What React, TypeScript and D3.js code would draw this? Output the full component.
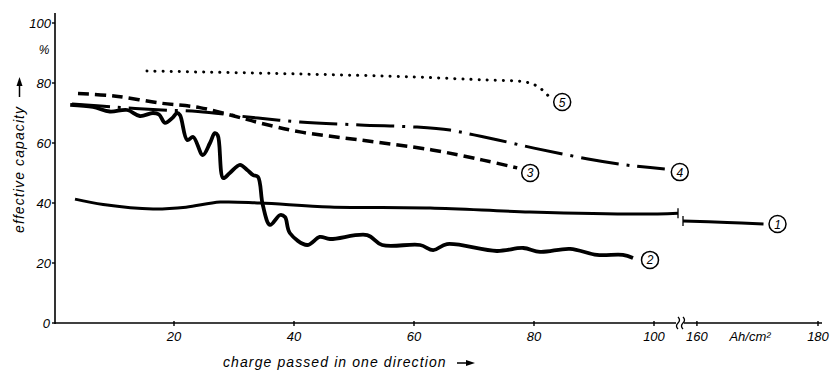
import React from 'react';
import * as d3 from 'd3';

// curve data: [charge Ah/cm², effective capacity %]
const curve1a = [[3.5, 41.3], [8.2, 39.5], [16.5, 38], [22, 38.6], [27.7, 40.3], [34.3, 40], [46, 38.7], [62.7, 38.3], [79.3, 37], [97.7, 36.3], [104, 36.6]];
const curve1b = [[157.7, 34], [165, 33.5], [171, 33]];
const curve2 = [
	[2.7, 72.7], [6.5, 72], [9.3, 70.5], [12.2, 71], [14.3, 69], [16.5, 70], [17.5, 69.5], [18.5, 66.7], [19.7, 68.3],
	[20.5, 70], [21, 69.3], [22.2, 61], [23.2, 62], [24.8, 56], [26, 60], [26.8, 63.3], [27.3, 62.5], [28.2, 48.3],
	[29.3, 50], [31, 52.7], [32.2, 51], [33.2, 49.3], [34, 48.7], [34.8, 39.3], [36, 32.7], [37.7, 36], [38.5, 35.3],
	[39.3, 30], [42.2, 26], [44.3, 28.7], [46, 28], [52.2, 29.3], [54.7, 26], [61, 26], [63.2, 24.3], [65.5, 26.3],
	[73.8, 24], [78.2, 25], [81, 23.7], [86, 24.7], [90.5, 22.7], [94.8, 22.7], [96.5, 21.7],
];
const curve3 = [[4, 76.5], [10, 75.7], [17.7, 73.3], [24.3, 71.8], [30, 69], [34.3, 66.7], [41, 63.7], [51, 61], [63, 57.7], [71.5, 54.3], [77.2, 51.7]];
const curve4 = [[3, 73], [10, 72], [18, 71], [24, 70.5], [34, 68.3], [41, 67], [51, 66], [60.5, 65.3], [66, 64.3], [70, 62.7], [74, 61], [80, 58.3], [89, 54.7], [96, 52.5], [101.8, 51.3]];
const curve5 = [[15.5, 84], [41, 83], [60, 82], [72, 81], [78, 80.5], [80, 79.5], [81.5, 77.5], [82.7, 75]];

const xTicks = [20, 40, 60, 80, 100, 160, 180];
const yTicks = [0, 20, 40, 60, 80, 100];
const curveLabels = ['1', '2', '3', '4', '5'];

const font = '"Liberation Sans", Arial, sans-serif';

export default function App() {
	const W = 831;
	const H = 370;
	// broken axis: 0..104 then 157.7..180
	const x = d3.scaleLinear().domain([0, 104, 157.7, 180]).range([54, 678, 683, 818]);
	const y = d3.scaleLinear().domain([0, 100]).range([323, 23]);
	const x0 = 55;
	const y0 = 323;

	const line = d3
		.line<number[]>()
		.x(d => x(d[0]))
		.y(d => y(d[1]))
		.curve(d3.curveCatmullRom.alpha(0.5));

	const series = [
		{ id: '1', data: curve1a, width: 3, dash: null, end: curve1b[curve1b.length - 1], off: [14, 0] },
		{ id: '2', data: curve2, width: 3.8, dash: null, end: curve2[curve2.length - 1], off: [17, 2] },
		{ id: '3', data: curve3, width: 3.5, dash: '11 6', end: curve3[curve3.length - 1], off: [13, 5] },
		{ id: '4', data: curve4, width: 3, dash: '38 8 3 8', end: curve4[curve4.length - 1], off: [15, 3] },
		{ id: '5', data: curve5, width: 3, dash: '0.1 8', end: curve5[curve5.length - 1], off: [12, 4] },
	];

	const bx = x(104) + 2; // where the axis break sits

	return (
		<svg width={W} height={H} style={{ position: 'absolute', left: 0, top: 0, background: '#fff' }} fontFamily={font}>
			{/* axes */}
			<line x1={x0} y1={13} x2={x0} y2={y0 + 1} stroke="#000" strokeWidth={1.6} />
			<line x1={x0} y1={y0} x2={822} y2={y0} stroke="#000" strokeWidth={1.6} />
			{yTicks.map(t => (
				<g key={'y' + t}>
					<line x1={x0 - 3} x2={x0} y1={y(t)} y2={y(t)} stroke="#000" strokeWidth={1.4} />
					<text x={t === 0 ? 50 : 51} y={y(t) + 5} textAnchor="end" fontSize={13} fontStyle="italic">{t}</text>
				</g>
			))}
			<text x={44} y={54} textAnchor="middle" fontSize={12} fontStyle="italic">%</text>
			{xTicks.map(t => (
				<g key={'x' + t}>
					<line x1={x(t)} x2={x(t)} y1={y0 - 2} y2={y0 + 3} stroke="#000" strokeWidth={1.4} />
					<text x={x(t)} y={341} textAnchor="middle" fontSize={13} fontStyle="italic">{t}</text>
				</g>
			))}
			<text x={750} y={341} textAnchor="middle" fontSize={13} fontStyle="italic">Ah/cm²</text>
			{/* axis break */}
			<rect x={bx - 4} y={y0 - 2} width={8} height={4} fill="#fff" />
			<path d={`M${bx - 2},${y0 - 6} q3,3 0,6 q-3,3 0,6 M${bx + 3},${y0 - 6} q3,3 0,6 q-3,3 0,6`} fill="none" stroke="#000" strokeWidth={1.3} />

			{/* axis titles */}
			<text transform="translate(24,233) rotate(-90)" textAnchor="start" fontSize={14} letterSpacing={1.1} fontStyle="italic">
				effective capacity
			</text>
			<path d="M19.5,97 V84" stroke="#000" strokeWidth={1.5} />
			<path d="M19.5,77 l-3,9 h6 z" fill="#000" />
			<text x={223} y={367} fontSize={14} letterSpacing={1.1} fontStyle="italic">charge passed in one direction</text>
			<path d="M457,363 H468" stroke="#000" strokeWidth={1.5} />
			<path d="M475,363 l-9,-3 v6 z" fill="#000" />

			{/* curves */}
			{series.map(s => (
				<path key={s.id} d={line(s.data) || ''} fill="none" stroke="#000" strokeWidth={s.width}
					strokeDasharray={s.dash || undefined} strokeLinecap={s.id === '5' ? 'round' : 'butt'} strokeLinejoin="round" />
			))}
			<path d={line(curve1b) || ''} fill="none" stroke="#000" strokeWidth={3} />
			<line x1={x(104)} x2={x(104)} y1={y(36.6) - 5} y2={y(36.6) + 5} stroke="#000" strokeWidth={1.3} />
			<line x1={x(157.7)} x2={x(157.7)} y1={y(34) - 5} y2={y(34) + 5} stroke="#000" strokeWidth={1.3} />

			{/* circled curve numbers */}
			{series.map((s, i) => {
				const cx = x(s.end[0]) + s.off[0];
				const cy = y(s.end[1]) + s.off[1];
				return (
					<g key={'l' + s.id}>
						<circle cx={cx} cy={cy} r={8.5} fill="#fff" stroke="#000" strokeWidth={1.5} />
						<text x={cx} y={cy + 4.5} textAnchor="middle" fontSize={12} fontStyle="italic">{curveLabels[i]}</text>
					</g>
				);
			})}
		</svg>
	);
}
